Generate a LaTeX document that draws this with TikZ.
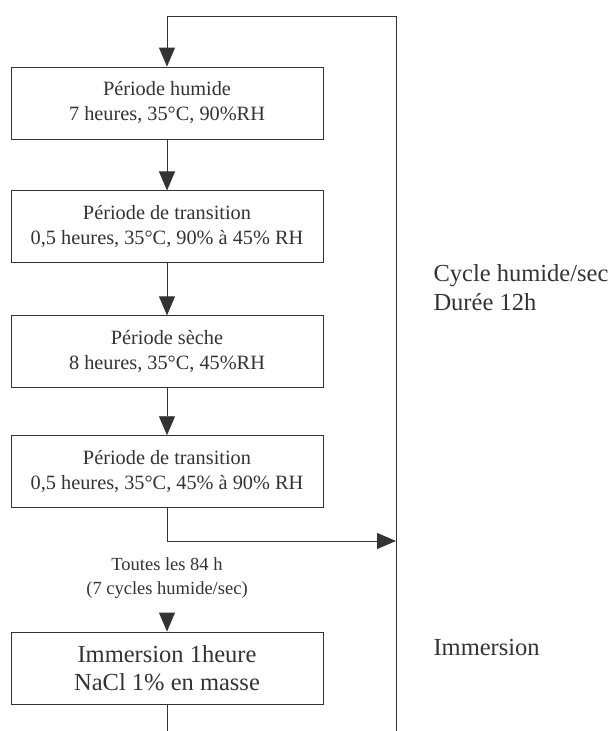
\documentclass[tikz,border=0pt]{standalone}
\usepackage{fontspec}
\setmainfont{Liberation Serif}
\usetikzlibrary{arrows.meta,positioning}
\definecolor{ink}{HTML}{333333}

\begin{document}
\begin{tikzpicture}[
  x=1pt, y=1pt,
  font=\fontsize{20.3}{25}\selectfont,
  box/.style={draw=ink, line width=.9pt, minimum width=312pt, minimum height=72pt, inner sep=2pt, align=center, text=ink},
  flow/.style={-{Triangle[width=16pt,length=19pt]}, draw=ink, line width=.9pt},
  side/.style={anchor=west, align=left, text=ink, font=\fontsize{24.5}{29}\selectfont}
]
\useasboundingbox (0,0) rectangle (609,-731);
\node[box] (wet) at (167,-103) {Période humide\\7 heures, 35°C, 90\%RH};
\node[box, below=51pt of wet] (trans1) {Période de transition\\0,5 heures, 35°C, 90\% à 45\% RH};
\node[box, below=52pt of trans1] (dry) {Période sèche\\8 heures, 35°C, 45\%RH};
\node[box, below=47pt of dry] (trans2) {Période de transition\\0,5 heures, 35°C, 45\% à 90\% RH};
\node[align=center, text=ink, font=\fontsize{18.5}{24}\selectfont] (every) at (167,-578) {Toutes les 84 h\\(7 cycles humide/sec)};
\node[box, font=\fontsize{24.5}{28}\selectfont] (imm) at (167,-668) {Immersion 1heure\\NaCl 1\% en masse};
\node[side] (cycle) at (430,-288) {Cycle humide/sec\\Durée 12h};
\node[side] (immlabel) at (430,-648) {Immersion};

\coordinate (top) at (167,-16);
\coordinate (corner) at (396,-16);
\coordinate (bottom) at (396,-731);
\coordinate (back) at (396,-541);
\coordinate (into) at (167,-613);
\coordinate (end) at (167,-731);

\draw[flow] (bottom) -- (corner) -- (top) -- (wet);
\draw[flow] (wet) -- (trans1);
\draw[flow] (trans1) -- (dry);
\draw[flow] (dry) -- (trans2);
\draw[flow] (trans2) |- (back);
\draw[flow] (into) -- (imm);
\draw[draw=ink, line width=.9pt] (imm) -- (end);
\end{tikzpicture}
\end{document}
